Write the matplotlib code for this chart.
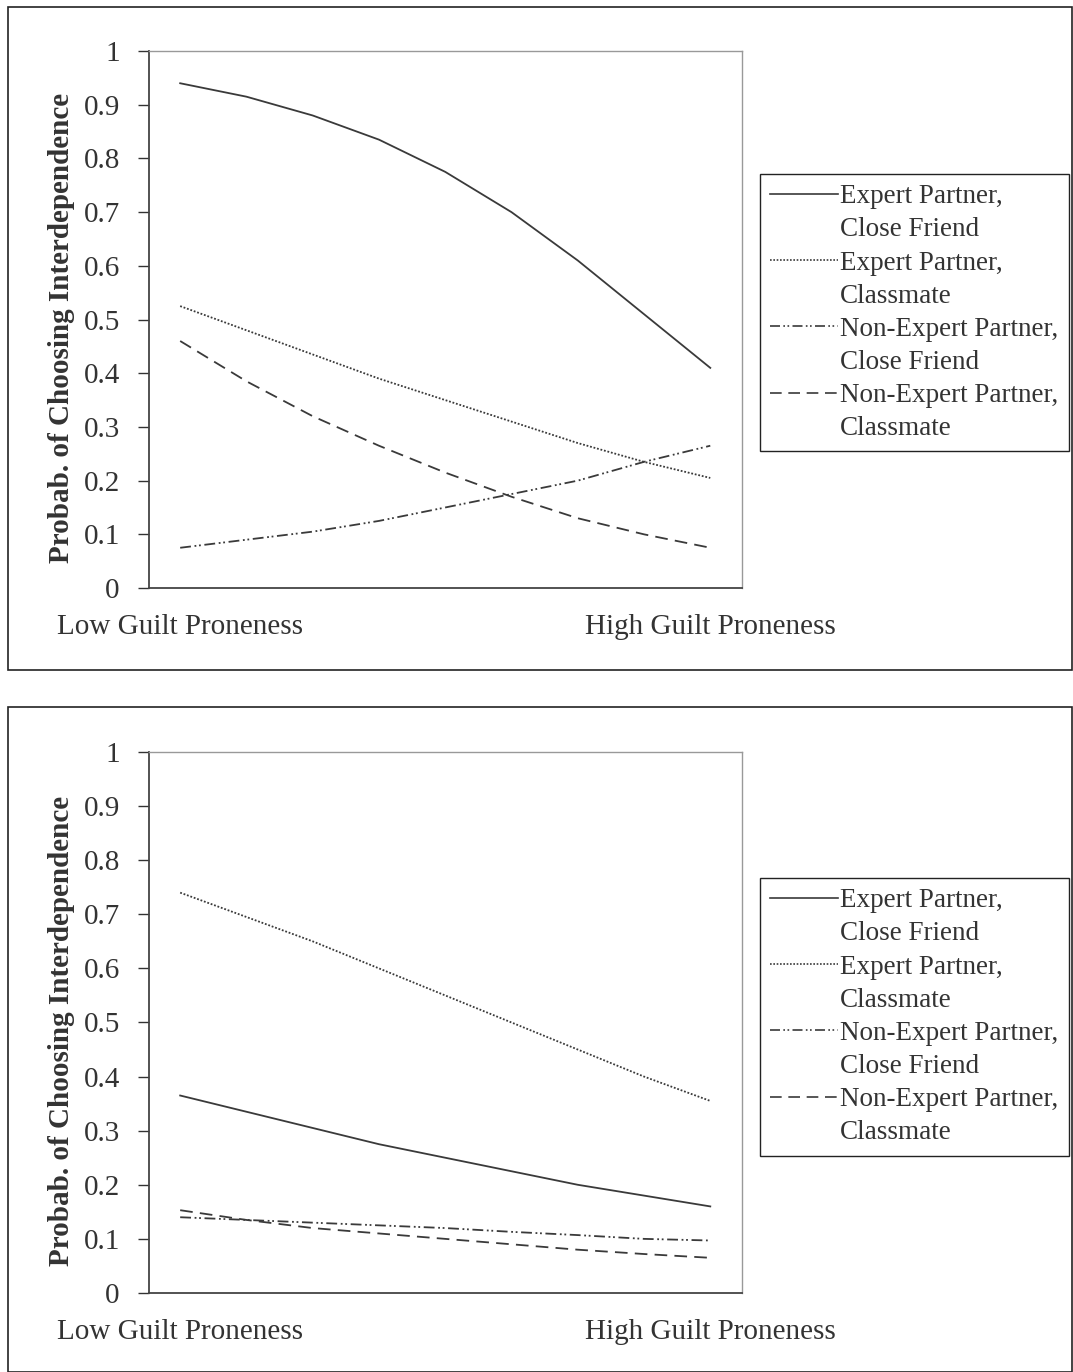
import matplotlib
matplotlib.use("Agg")
import matplotlib.pyplot as plt
from matplotlib.lines import Line2D
from matplotlib.patches import Rectangle
import numpy as np

plt.rcParams['font.family'] = ['Liberation Serif', 'DejaVu Serif']

# guilt proneness steps, low -> high
steps = np.arange(9)
tick_labels = ["Low Guilt Proneness", "High Guilt Proneness"]
series_names = [("Expert Partner,", "Close Friend"),
                ("Expert Partner,", "Classmate"),
                ("Non-Expert Partner,", "Close Friend"),
                ("Non-Expert Partner,", "Classmate")]

# top panel
top_expert_friend = [0.94, 0.915, 0.88, 0.835, 0.775, 0.70, 0.61, 0.51, 0.41]
top_expert_class = [0.525, 0.48, 0.435, 0.39, 0.35, 0.31, 0.27, 0.235, 0.205]
top_nonexp_friend = [0.075, 0.09, 0.105, 0.125, 0.15, 0.175, 0.20, 0.235, 0.265]
top_nonexp_class = [0.46, 0.385, 0.32, 0.265, 0.215, 0.17, 0.13, 0.10, 0.075]

# bottom panel
bot_expert_friend = [0.365, 0.335, 0.305, 0.275, 0.25, 0.225, 0.20, 0.18, 0.16]
bot_expert_class = [0.74, 0.695, 0.65, 0.60, 0.55, 0.50, 0.45, 0.40, 0.355]
bot_nonexp_friend = [0.14, 0.135, 0.13, 0.125, 0.12, 0.113, 0.107, 0.10, 0.097]
bot_nonexp_class = [0.153, 0.135, 0.12, 0.11, 0.10, 0.09, 0.08, 0.072, 0.065]

line_color = '#3a3a3a'
styles = ['-', (0, (1, 1)), (0, (6, 2, 1, 1.5, 1, 2)), (0, (7, 4))]


def make_panel(fig, rect, series, legend_anchor):
    ax = fig.add_axes(rect)
    for vals, ls in zip(series, styles):
        ax.plot(steps, vals, color=line_color, linestyle=ls, linewidth=1.3)
    ax.set_xlim(-0.47, 8.48)
    ax.set_ylim(0, 1)
    ax.set_yticks(np.arange(0, 1.01, 0.1))
    ax.set_yticklabels(['0', '0.1', '0.2', '0.3', '0.4', '0.5', '0.6', '0.7', '0.8', '0.9', '1'])
    ax.set_xticks([0, 8])
    ax.set_xticklabels(tick_labels)
    ax.tick_params(axis='x', length=0, pad=19, labelsize=21, colors='#333333')
    ax.tick_params(axis='y', length=8, width=1, direction='out', pad=13,
                   labelsize=21, colors='#333333')
    for side in ['left', 'bottom']:
        ax.spines[side].set_color('#444444')
        ax.spines[side].set_linewidth(1.3)
    for side in ['top', 'right']:
        ax.spines[side].set_color('#999999')
        ax.spines[side].set_linewidth(1.0)
    ax.set_ylabel('Probab. of Choosing Interdependence', fontsize=21,
                  fontweight='bold', color='#333333')
    ax.yaxis.set_label_coords(-0.125, 0.485)

    handles, labels = [], []
    for (first, second), ls in zip(series_names, styles):
        handles.append(Line2D([], [], color=line_color, linestyle=ls, linewidth=1.2))
        labels.append(first)
        handles.append(Line2D([], [], linestyle='none'))
        labels.append(second)
    leg = ax.legend(handles, labels, loc='upper left', bbox_to_anchor=legend_anchor,
                    bbox_transform=fig.transFigure, borderaxespad=0, fontsize=19.5,
                    handlelength=2.5, handletextpad=0.08, labelspacing=0.3,
                    borderpad=0.38, fancybox=False, framealpha=1,
                    edgecolor='#222222')
    leg.get_frame().set_linewidth(1.0)
    for t in leg.get_texts():
        t.set_color('#333333')
    return ax


fig = plt.figure(figsize=(10.73, 13.72), dpi=100)

# outer frames around each chart
fig.patches.append(Rectangle((8 / 1073, 1 - 670 / 1372), 1064 / 1073, 663 / 1372,
                             transform=fig.transFigure, fill=False,
                             edgecolor='#222222', linewidth=1.2))
fig.patches.append(Rectangle((8 / 1073, 0.0), 1064 / 1073, 665 / 1372,
                             transform=fig.transFigure, fill=False,
                             edgecolor='#222222', linewidth=1.2))

make_panel(fig, [0.1389, 0.5714, 0.5527, 0.3914],
           [top_expert_friend, top_expert_class, top_nonexp_friend, top_nonexp_class],
           (0.7083, 0.8732))
make_panel(fig, [0.1389, 0.0576, 0.5527, 0.3943],
           [bot_expert_friend, bot_expert_class, bot_nonexp_friend, bot_nonexp_class],
           (0.7083, 0.36))

fig.savefig('out.png', dpi=100)
